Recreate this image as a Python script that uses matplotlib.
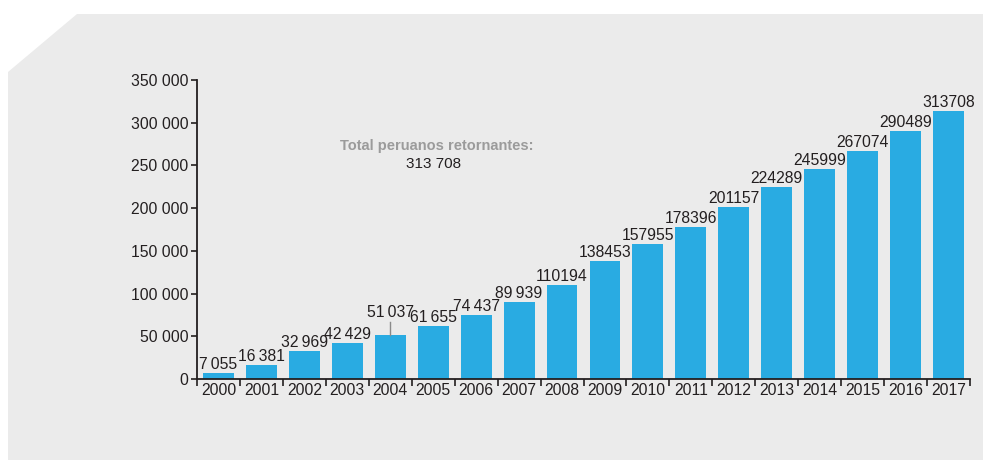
import matplotlib
matplotlib.use("Agg")
import matplotlib.pyplot as plt
from matplotlib.patches import Polygon
from matplotlib import font_manager

years = [str(y) for y in range(2000, 2018)]
values = [7055, 16381, 32969, 42429, 51037, 61655, 74437, 89939, 110194,
          138453, 157955, 178396, 201157, 224289, 245999, 267074, 290489, 313708]
yticks = [0, 50000, 100000, 150000, 200000, 250000, 300000, 350000]
ytick_labels = ["0", "50 000", "100 000", "150 000", "200 000", "250 000", "300 000", "350 000"]
total_title = "Total peruanos retornantes:"
total_value = "313 708"

avail = {f.name for f in font_manager.fontManager.ttflist}
fam = "Liberation Sans Narrow" if "Liberation Sans Narrow" in avail else "Liberation Sans"
plt.rcParams["font.family"] = [fam, "DejaVu Sans"]

W, H = 983, 461
fig = plt.figure(figsize=(W / 100, H / 100), dpi=100)
fig.patch.set_facecolor("white")

def fp(x, y):
    return (x / W, 1 - y / H)

panel = Polygon([fp(8, 72), fp(77, 14), fp(983, 14), fp(983, 460), fp(8, 460)],
                closed=True, transform=fig.transFigure, facecolor="#ebebeb",
                edgecolor="none", zorder=-10)
fig.patches.append(panel)

ax = fig.add_axes([197 / W, 1 - 379 / H, (970 - 197) / W, (379 - 80) / H])
ax.set_zorder(5)
ax.set_facecolor("none")
x = list(range(len(years)))
bar_color = "#29abe2"
ax.bar(x, values, width=0.72, color=bar_color, zorder=2)
ax.set_xlim(-0.5, len(years) - 0.5)
ax.set_ylim(0, 350000)

txt = "#231f20"
def fmt(v):
    return f"{v:,}".replace(",", "\u2009") if v < 100000 else str(v)

fs = 11.3
for i, v in enumerate(values):
    if years[i] == "2004":
        ytxt = v + 17500
        ax.plot([i, i], [v, ytxt - 1500], color="#8a8a8a", lw=1, zorder=3)
        ax.text(i, ytxt, fmt(v), ha="center", va="bottom", fontsize=fs, color=txt)
    else:
        ax.text(i, v + 1200, fmt(v), ha="center", va="bottom", fontsize=fs, color=txt)

for s in ["top", "right"]:
    ax.spines[s].set_visible(False)
for s in ["left", "bottom"]:
    ax.spines[s].set_color("#231f20")
    ax.spines[s].set_linewidth(1.3)

ax.set_yticks(yticks)
ax.set_yticklabels(ytick_labels, fontsize=fs, color=txt)
ax.tick_params(axis="y", length=4, width=1.2, color="#231f20", pad=2)

ax.set_xticks(x)
ax.set_xticklabels(years, fontsize=fs, color=txt)
ax.tick_params(axis="x", which="major", length=0, pad=3)
ax.set_xticks([i - 0.5 for i in range(len(years) + 1)], minor=True)
ax.tick_params(axis="x", which="minor", length=5, width=1.2, color="#231f20", direction="out")

fig.text(437 / W, 1 - 146 / H, total_title, ha="center", va="center",
         fontsize=10.5, fontweight="bold", color="#9b9b9b")
fig.text(434 / W, 1 - 164 / H, total_value, ha="center", va="center",
         fontsize=11, color=txt)

fig.savefig("out.png", dpi=100, facecolor=fig.get_facecolor())
